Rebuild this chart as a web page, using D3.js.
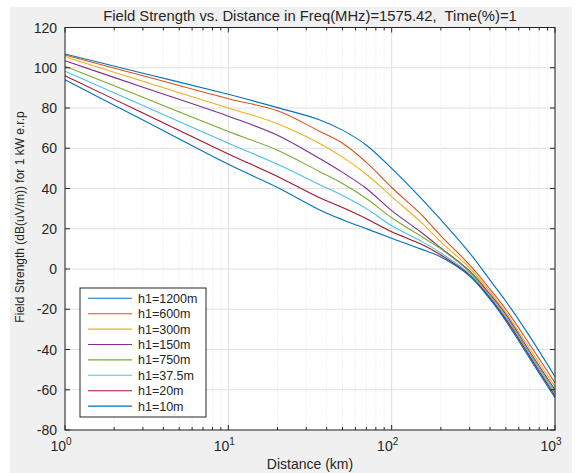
<!DOCTYPE html>
<html><head><meta charset="utf-8">
<script src="https://cdn.jsdelivr.net/npm/d3@7"></script>
<style>
html,body{margin:0;padding:0;background:#fff;}
svg text{font-family:"Liberation Sans",Arial,sans-serif;fill:#262626;white-space:pre;}
</style></head>
<body>
<svg id="c" width="582" height="473"></svg>
<script>
const distances = [1, 3, 10, 20, 36, 50, 70, 100, 150, 200, 300, 400, 500, 700, 1000];
const seriesNames = ["h1=1200m","h1=600m","h1=300m","h1=150m","h1=750m","h1=37.5m","h1=20m","h1=10m"];
const s1200 = [106.8, 97.3, 86.8, 80.2, 74.2, 69, 61.5, 50, 35.5, 24.5, 8, -5.5, -16, -33.5, -53.5];
const s600  = [106.3, 96, 84.6, 78.6, 68.5, 62.5, 53, 40.5, 27.5, 16.5, 2, -10, -20, -37.5, -56.5];
const s300  = [105.5, 93.3, 80, 72.2, 62.5, 55.6, 47.1, 36, 23.5, 13.5, 0.5, -11.3, -21.5, -39.5, -58.5];
const s150  = [103.5, 90.3, 75.9, 66.5, 55, 48, 40, 29, 18.5, 10.5, -1, -12.5, -22.5, -41, -60];
const s75   = [100.8, 85.3, 68.3, 59, 48.5, 42.5, 35, 25.5, 16.5, 10, -1.5, -13.3, -23.5, -42, -61];
const s37   = [98.3, 81.2, 62.5, 52, 42, 36.5, 30, 21.5, 14, 8, -2.5, -14, -24.3, -42.8, -62];
const s20   = [96, 77.5, 57.2, 46, 35.5, 30.5, 25, 18.5, 12.5, 7, -3, -14.5, -25, -43.5, -63];
const s10   = [94, 74, 52, 40.5, 29.5, 24.5, 20, 15.3, 10, 6, -3.5, -15, -25.8, -44.4, -64];
const seriesValues = [s1200, s600, s300, s150, s75, s37, s20, s10];
const colors = ["#0072BD","#D95319","#EDB120","#7E2F8E","#77AC30","#4DBEEE","#A2142F","#0072BD"];
const yTicks = [-80, -60, -40, -20, 0, 20, 40, 60, 80, 100, 120];
const xMajor = [1, 10, 100, 1000];
const xExp = ["0", "1", "2", "3"];
const title = "Field Strength vs. Distance in Freq(MHz)=1575.42,  Time(%)=1";
const xLabel = "Distance (km)";
const yLabel = "Field Strength (dB(uV/m)) for 1 kW e.r.p";

const svg = d3.select("#c");
const L = 65, R = 555, T = 27.5, B = 430;
const x = d3.scaleLog().domain([1, 1000]).range([L, R]);
const y = d3.scaleLinear().domain([-80, 120]).range([B, T]);

svg.append("rect").attr("x", 10).attr("y", 7).attr("width", 562).attr("height", 466).attr("fill", "#f0f0f0");
svg.append("rect").attr("x", L).attr("y", T).attr("width", R - L).attr("height", B - T).attr("fill", "#fff");

const xMinor = [];
for (let dec = 1; dec < 1000; dec *= 10) for (let k = 2; k <= 9; k++) xMinor.push(dec * k);

const g = svg.append("g");
g.selectAll(".mg").data(xMinor).join("line")
  .attr("x1", d => x(d)).attr("x2", d => x(d)).attr("y1", T).attr("y2", B)
  .attr("stroke", "#dcdcdc").attr("stroke-width", 0.8).attr("stroke-dasharray", "1,2");
g.selectAll(".gx").data(xMajor).join("line")
  .attr("x1", d => x(d)).attr("x2", d => x(d)).attr("y1", T).attr("y2", B)
  .attr("stroke", "#e0e0e0").attr("stroke-width", 1);
g.selectAll(".gy").data(yTicks).join("line")
  .attr("x1", L).attr("x2", R).attr("y1", d => y(d)).attr("y2", d => y(d))
  .attr("stroke", "#e0e0e0").attr("stroke-width", 1);

const line = d3.line().x(d => x(d[0])).y(d => y(d[1])).curve(d3.curveCatmullRom.alpha(0.5));
seriesValues.forEach((vals, i) => {
  svg.append("path").datum(distances.map((d, j) => [d, vals[j]]))
    .attr("d", line).attr("fill", "none").attr("stroke", colors[i]).attr("stroke-width", 1.1);
});

const ax = svg.append("g").attr("stroke", "#262626");
ax.append("rect").attr("x", L).attr("y", T).attr("width", R - L).attr("height", B - T)
  .attr("fill", "none").attr("stroke-width", 1);
yTicks.forEach(v => {
  ax.append("line").attr("x1", L).attr("x2", L + 5).attr("y1", y(v)).attr("y2", y(v));
  ax.append("line").attr("x1", R).attr("x2", R - 5).attr("y1", y(v)).attr("y2", y(v));
});
xMajor.forEach(v => {
  ax.append("line").attr("x1", x(v)).attr("x2", x(v)).attr("y1", B).attr("y2", B - 5);
  ax.append("line").attr("x1", x(v)).attr("x2", x(v)).attr("y1", T).attr("y2", T + 5);
});
xMinor.forEach(v => {
  ax.append("line").attr("x1", x(v)).attr("x2", x(v)).attr("y1", B).attr("y2", B - 3);
  ax.append("line").attr("x1", x(v)).attr("x2", x(v)).attr("y1", T).attr("y2", T + 3);
});

svg.selectAll(".yt").data(yTicks).join("text")
  .attr("x", L - 8).attr("y", d => y(d) + 5).attr("text-anchor", "end")
  .attr("font-size", 14).text(d => d);
xMajor.forEach((v, i) => {
  const t = svg.append("text").attr("x", x(v) - 4).attr("y", 451).attr("text-anchor", "middle").attr("font-size", 14);
  t.append("tspan").text("10");
  t.append("tspan").attr("dy", -6).attr("font-size", 10).text(xExp[i]);
});

svg.append("text").attr("x", 310).attr("y", 21).attr("text-anchor", "middle").attr("font-size", 14.8).text(title);
svg.append("text").attr("x", 310).attr("y", 469).attr("text-anchor", "middle").attr("font-size", 14).text(xLabel);
svg.append("text").attr("transform", `translate(24,217) rotate(-90)`)
  .attr("text-anchor", "middle").attr("font-size", 12).text(yLabel);

const lg = svg.append("g");
lg.append("rect").attr("x", 80).attr("y", 288).attr("width", 126).attr("height", 129)
  .attr("fill", "#fff").attr("stroke", "#262626").attr("stroke-width", 1);
seriesNames.forEach((n, i) => {
  const yy = 298.3 + i * 15.4;
  lg.append("line").attr("x1", 88).attr("x2", 132).attr("y1", yy).attr("y2", yy)
    .attr("stroke", colors[i]).attr("stroke-width", 1.1);
  lg.append("text").attr("x", 138).attr("y", yy + 4.5).attr("font-size", 12.5).text(n);
});
</script>
</body></html>
